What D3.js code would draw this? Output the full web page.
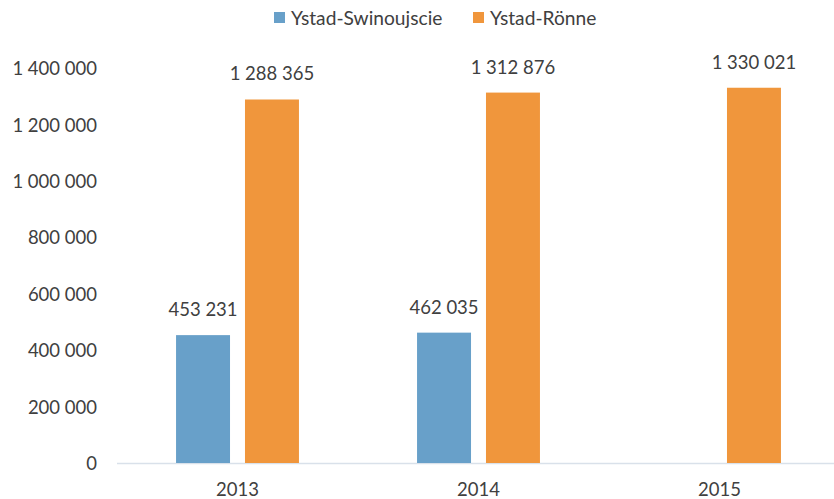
<!DOCTYPE html>
<html><head><meta charset="utf-8">
<script src="https://cdn.jsdelivr.net/npm/d3@7"></script>
<style>
body{margin:0;background:#fff;}
text{font-family:Lato,"Open Sans",sans-serif;fill:#404040;}
</style></head>
<body><svg id="c" width="834" height="499"></svg>
<script>
const categories = ["2013","2014","2015"];
const seriesNames = ["Ystad-Swinoujscie","Ystad-Rönne"];
const swinoujscie = [453231, 462035, null];
const ronne = [1288365, 1312876, 1330021];
const yTicks = [0,200000,400000,600000,800000,1000000,1200000,1400000];
const colors = ["#68a0c9","#f0963c"];

const svg = d3.select("#c");
const fmt = v => d3.format(",")(v).replace(/,/g," ");
const y = d3.scaleLinear().domain([0,1400000]).range([463,68]);
const x = d3.scaleBand().domain(categories).range([117,840]).paddingInner(0.49).paddingOuter(0.245);
const xs = d3.scaleBand().domain(seriesNames).range([0,x.bandwidth()]).paddingInner(0.217);

const series = [swinoujscie, ronne];
// axis line
svg.append("line").attr("x1",117).attr("x2",834).attr("y1",y(0)+0.5).attr("y2",y(0)+0.5)
  .attr("stroke","#d9e1ea").attr("stroke-width",1.3);

// y axis labels
const ya = svg.append("g").attr("transform","translate(97,0)")
  .call(d3.axisLeft(y).tickValues(yTicks).tickFormat(fmt).tickSize(0).tickPadding(0));
ya.select(".domain").remove();
ya.selectAll("text").style("font-size","18.5px").attr("dy","0.36em").attr("fill","#404040");

// x axis labels
const xa = svg.append("g").attr("transform","translate(0,478)")
  .call(d3.axisBottom(x).tickSize(0).tickPadding(0));
xa.select(".domain").remove();
xa.selectAll("text").style("font-size","18.5px").attr("dy","0.95em").attr("fill","#404040");

series.forEach((vals,si)=>{
  const g = svg.append("g");
  categories.forEach((c,i)=>{
    const v = vals[i];
    if(v==null) return;
    const bx = x(c)+xs(seriesNames[si]);
    g.append("rect").attr("x",bx).attr("y",y(v)).attr("width",xs.bandwidth()).attr("height",y(0)-y(v))
      .attr("fill",colors[si]);
    g.append("text").attr("x",bx+xs.bandwidth()/2).attr("y",y(v)-19).attr("text-anchor","middle")
      .style("font-size","18.5px").text(fmt(v));
  });
});

// legend
const leg = svg.append("g");
const legX = [274,473];
seriesNames.forEach((n,i)=>{
  leg.append("rect").attr("x",legX[i]).attr("y",12).attr("width",11).attr("height",11).attr("fill",colors[i]);
  leg.append("text").attr("x",legX[i]+17).attr("y",18).attr("dy","0.36em").style("font-size","19.2px").text(n);
});
</script></body></html>
